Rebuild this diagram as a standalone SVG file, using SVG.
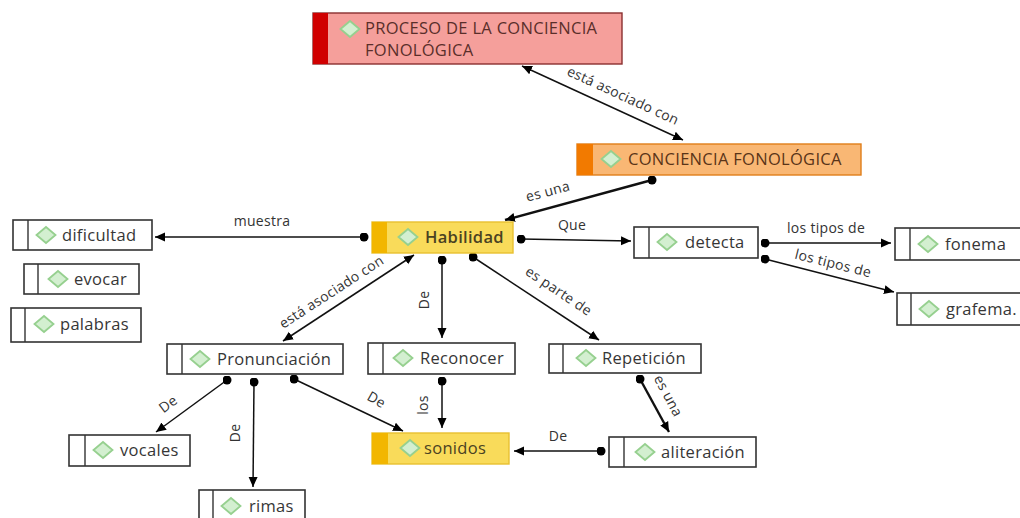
<svg xmlns="http://www.w3.org/2000/svg" width="1020" height="518" viewBox="0 0 1020 518">
<defs>
<marker id="ah" viewBox="0 0 10 10" refX="10" refY="5" markerWidth="10" markerHeight="10" markerUnits="userSpaceOnUse" orient="auto-start-reverse"><path d="M0,0.5 L10,5 L0,9.5 Z" fill="#000"/></marker>
<marker id="dot" viewBox="0 0 10 10" refX="5" refY="5" markerWidth="9" markerHeight="9" markerUnits="userSpaceOnUse"><circle cx="5" cy="5" r="5" fill="#000"/></marker>
<g id="dm"><path d="M0,-8 L9.5,0 L0,8 L-9.5,0 Z" fill="#d3efd0" stroke="#96d08f" stroke-width="1.8"/></g>
</defs>
<style>
.n{fill:#fff;stroke:#333;stroke-width:1.6}
.dv{stroke:#333;stroke-width:1.4}
.t{font-family:"Open Sans","Noto Sans",sans-serif;font-size:16.5px;letter-spacing:0.3px;fill:#363636}
.l{font-family:"Open Sans","Noto Sans",sans-serif;font-size:14px;letter-spacing:0.3px;fill:#333}
.c{stroke:#111;stroke-width:1.5;fill:none}
.ct{stroke:#111;stroke-width:2.4;fill:none}
</style>
<rect width="1020" height="518" fill="#fff"/>

<g id="connectors">
<line class="c" x1="522" y1="66" x2="683" y2="140" marker-start="url(#ah)" marker-end="url(#ah)"/>
<text class="l" transform="translate(621,100) rotate(24.7)" text-anchor="middle">está asociado con</text>
<line class="ct" x1="652" y1="180" x2="505" y2="220" marker-start="url(#dot)" marker-end="url(#ah)"/>
<text class="l" transform="translate(549,196) rotate(-15)" text-anchor="middle">es una</text>
<line class="c" x1="364" y1="237" x2="155" y2="237" marker-start="url(#dot)" marker-end="url(#ah)"/>
<text class="l" x="262" y="226" text-anchor="middle">muestra</text>
<line class="c" x1="521" y1="239" x2="631" y2="241" marker-start="url(#dot)" marker-end="url(#ah)"/>
<text class="l" x="572" y="230" text-anchor="middle">Que</text>
<line class="c" x1="765" y1="243" x2="891" y2="243" marker-start="url(#dot)" marker-end="url(#ah)"/>
<text class="l" x="826" y="233" text-anchor="middle">los tipos de</text>
<line class="c" x1="765" y1="259" x2="894" y2="292" marker-start="url(#dot)" marker-end="url(#ah)"/>
<text class="l" transform="translate(832,268) rotate(14)" text-anchor="middle">los tipos de</text>
<line class="c" x1="414" y1="255" x2="283" y2="341" marker-start="url(#ah)" marker-end="url(#ah)"/>
<text class="l" transform="translate(334,296) rotate(-33)" text-anchor="middle">está asociado con</text>
<line class="c" x1="442" y1="260" x2="442" y2="338" marker-start="url(#dot)" marker-end="url(#ah)"/>
<text class="l" transform="translate(429,300) rotate(-90)" text-anchor="middle">De</text>
<line class="c" x1="473" y1="257" x2="599" y2="340" marker-start="url(#dot)" marker-end="url(#ah)"/>
<text class="l" transform="translate(556,295) rotate(34)" text-anchor="middle">es parte de</text>
<line class="c" x1="227" y1="380" x2="156" y2="432" marker-start="url(#dot)" marker-end="url(#ah)"/>
<text class="l" transform="translate(171,408) rotate(-37)" text-anchor="middle">De</text>
<line class="c" x1="254" y1="382" x2="253" y2="487" marker-start="url(#dot)" marker-end="url(#ah)"/>
<text class="l" transform="translate(240,433) rotate(-90)" text-anchor="middle">De</text>
<line class="c" x1="294" y1="379" x2="403" y2="431" marker-start="url(#dot)" marker-end="url(#ah)"/>
<text class="l" transform="translate(374,404) rotate(30)" text-anchor="middle">De</text>
<line class="c" x1="442" y1="381" x2="442" y2="428" marker-start="url(#dot)" marker-end="url(#ah)"/>
<text class="l" transform="translate(428,405) rotate(-90)" text-anchor="middle">los</text>
<line class="ct" x1="640" y1="379" x2="669" y2="432" marker-start="url(#dot)" marker-end="url(#ah)"/>
<text class="l" transform="translate(664,398) rotate(62)" text-anchor="middle">es una</text>
<line class="c" x1="601" y1="451" x2="514" y2="451" marker-start="url(#dot)" marker-end="url(#ah)"/>
<text class="l" x="558" y="441" text-anchor="middle">De</text>
</g>

<g id="n-proceso">
<rect x="313" y="13" width="309" height="51" fill="#f59f9b" stroke="#8a3030" stroke-width="1.4"/>
<rect x="313" y="13" width="15" height="51" fill="#d00000"/>
<use href="#dm" x="350" y="29"/>
<text class="t" x="365" y="34" style="fill:#5a2e2a">PROCESO DE LA CONCIENCIA</text>
<text class="t" x="365" y="56" style="fill:#5a2e2a">FONOLÓGICA</text>
</g>
<g id="n-conciencia">
<rect x="577" y="144" width="284" height="31" fill="#f9b774" stroke="#e07e1a" stroke-width="1.4"/>
<rect x="577" y="144" width="16" height="31" fill="#f27a00"/>
<use href="#dm" x="611" y="159"/>
<text class="t" x="628" y="165" style="fill:#5a3418">CONCIENCIA FONOLÓGICA</text>
</g>
<g id="n-habilidad">
<rect x="372" y="222" width="141" height="31" fill="#f9db5a" stroke="#e8c030" stroke-width="1.4"/>
<rect x="372" y="222" width="15" height="31" fill="#f2b600"/>
<use href="#dm" x="408" y="237"/>
<text class="t" x="425" y="243" style="fill:#4a4222;font-weight:600">Habilidad</text>
</g>
<g id="n-dificultad">
<rect class="n" x="13" y="220" width="139" height="30"/><line class="dv" x1="28" y1="220" x2="28" y2="250"/>
<use href="#dm" x="46" y="235"/><text class="t" x="62" y="241">dificultad</text>
</g>
<g id="n-evocar">
<rect class="n" x="24" y="264" width="115" height="30"/><line class="dv" x1="38" y1="264" x2="38" y2="294"/>
<use href="#dm" x="58" y="279"/><text class="t" x="74" y="285">evocar</text>
</g>
<g id="n-palabras">
<rect class="n" x="11" y="308" width="130" height="34"/><line class="dv" x1="25" y1="308" x2="25" y2="342"/>
<use href="#dm" x="44" y="324"/><text class="t" x="60" y="330">palabras</text>
</g>
<g id="n-detecta">
<rect class="n" x="634" y="227" width="124" height="31"/><line class="dv" x1="649" y1="227" x2="649" y2="258"/>
<use href="#dm" x="667" y="242"/><text class="t" x="685" y="248">detecta</text>
</g>
<g id="n-fonema">
<rect class="n" x="895" y="228" width="130" height="32"/><line class="dv" x1="910" y1="228" x2="910" y2="260"/>
<use href="#dm" x="928" y="244"/><text class="t" x="945" y="250">fonema</text>
</g>
<g id="n-grafema">
<rect class="n" x="897" y="293" width="130" height="32"/><line class="dv" x1="911" y1="293" x2="911" y2="325"/>
<use href="#dm" x="929" y="309"/><text class="t" x="946" y="315">grafema.</text>
</g>
<g id="n-pronunciacion">
<rect class="n" x="167" y="344" width="176" height="30"/><line class="dv" x1="182" y1="344" x2="182" y2="374"/>
<use href="#dm" x="200" y="359"/><text class="t" x="217" y="365">Pronunciación</text>
</g>
<g id="n-reconocer">
<rect class="n" x="368" y="343" width="147" height="31"/><line class="dv" x1="383" y1="343" x2="383" y2="374"/>
<use href="#dm" x="403" y="358"/><text class="t" x="420" y="364">Reconocer</text>
</g>
<g id="n-repeticion">
<rect class="n" x="549" y="344" width="152" height="29"/><line class="dv" x1="563" y1="344" x2="563" y2="373"/>
<use href="#dm" x="586" y="358"/><text class="t" x="602" y="364">Repetición</text>
</g>
<g id="n-sonidos">
<rect x="372" y="433" width="137" height="31" fill="#f9db5a" stroke="#e8c030" stroke-width="1.4"/>
<rect x="372" y="433" width="16" height="31" fill="#f2b600"/>
<use href="#dm" x="410" y="448"/><text class="t" x="424" y="454" style="fill:#4a4222">sonidos</text>
</g>
<g id="n-aliteracion">
<rect class="n" x="609" y="437" width="147" height="30"/><line class="dv" x1="624" y1="437" x2="624" y2="467"/>
<use href="#dm" x="645" y="452"/><text class="t" x="661" y="458">aliteración</text>
</g>
<g id="n-vocales">
<rect class="n" x="69" y="435" width="121" height="31"/><line class="dv" x1="85" y1="435" x2="85" y2="466"/>
<use href="#dm" x="103" y="450"/><text class="t" x="120" y="456">vocales</text>
</g>
<g id="n-rimas">
<rect class="n" x="199" y="490" width="106" height="34"/><line class="dv" x1="213" y1="490" x2="213" y2="524"/>
<use href="#dm" x="231" y="506"/><text class="t" x="249" y="512">rimas</text>
</g>
</svg>
